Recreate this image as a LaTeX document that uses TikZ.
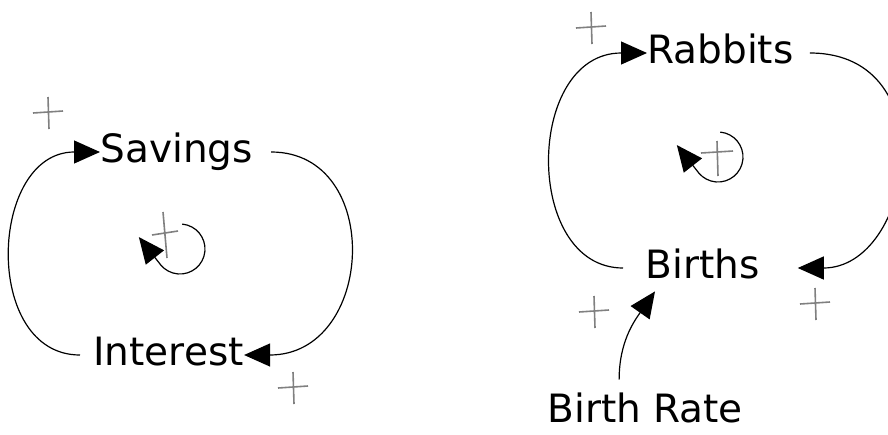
\documentclass[tikz,border=0pt]{standalone}
\usepackage{fontspec}
\setmainfont{DejaVu Sans}
\usetikzlibrary{arrows.meta}

\begin{document}
\begin{tikzpicture}[
  x=0.5pt, y=-0.5pt,
  var/.style={anchor=base west, inner sep=0pt, text height=10pt, text depth=0pt,
              font=\fontsize{19.5}{22}\selectfont},
  link/.style={-{Triangle[length=13pt, width=11.5pt]}, line width=0.6pt},
  sign/.style={gray, line width=0.8pt}
]
\useasboundingbox (0,0) rectangle (888,434);

% savings loop
\node[var] (sav) at (100,162) {Savings};
\node[var] (int) at (93,365) {Interest};
\coordinate (loopS) at (180,249);

\draw[link, shorten <=9pt] (sav.east) to[out=0, in=0, looseness=1.65] (int.east);
\draw[link, shorten <=6.5pt] (int.west) to[out=180, in=180, looseness=1.4] (sav.west);

% rabbits loop
\node[var] (rab) at (647,63) {Rabbits};
\node[var] (bir) at (645,278) {Births};
\node[var] (brate) at (547,422) {Birth Rate};
\coordinate (loopR) at (718,157);

\draw[link, shorten <=8pt, shorten >=19pt] (rab.east) to[out=0, in=0, looseness=1.8] (bir.east);
\draw[link, shorten <=11pt] (bir.west) to[out=180, in=180, looseness=1.45] (rab.west);
\draw[link] ([shift={(-13pt,11pt)}]brate.north) to[out=90, in=235] ([shift={(5pt,-6.5pt)}]bir.south west);

% loop markers
\foreach \c in {loopS, loopR}
  \draw[link] ([shift={(85:12.5pt)}]\c) arc[start angle=85, end angle=-140, radius=12.5pt] -- ++(-11pt,14pt);

% polarity signs
\foreach \x/\y in {48/113, 293/388, 591/28, 594/312, 815/304}
  \draw[sign] (\x,\y) +(-15,0) -- +(15,-2) +(0,-16) -- +(1,16);
\draw[sign] (165,235) +(-13,0) -- +(13,-4) +(-2,-23) -- +(2,23);
\draw[sign] (717,158) +(-16,-5) -- +(16,-7) +(0,-17) -- +(1,18);
\end{tikzpicture}
\end{document}
